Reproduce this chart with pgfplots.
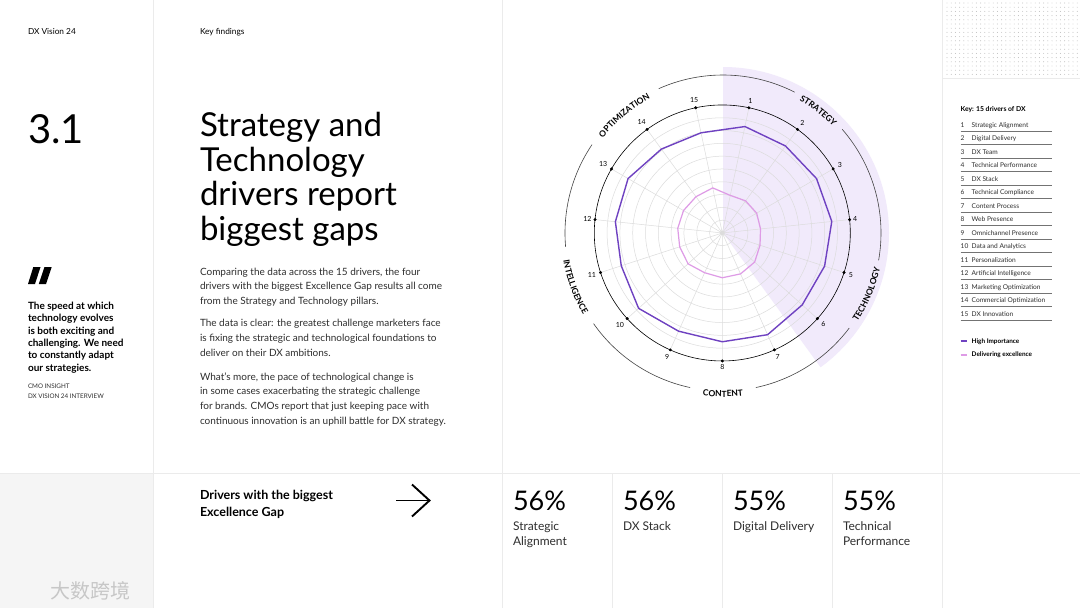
\documentclass[border=0pt]{standalone}
\usepackage{pgfplots}
\pgfplotsset{compat=1.18}
\usepgfplotslibrary{polar}
\usetikzlibrary{decorations.text}
\usepackage{fontspec}
\setmainfont{Lato}
\newfontfamily\cjk{Noto Sans CJK SC}
\definecolor{lav}{HTML}{F1EAFB}
\definecolor{darkp}{HTML}{6F42C1}
\definecolor{pinkp}{HTML}{DE9BE6}
\definecolor{divc}{HTML}{EBEBEB}
\definecolor{bodyc}{HTML}{2E2E2E}
\definecolor{gridc}{HTML}{DCDCDC}
\definecolor{arcc}{HTML}{444444}
\newcommand\fs[1]{\fontsize{#1}{#1}\selectfont}
\newcommand\T[4]{\node[anchor=base west, inner sep=0pt, outer sep=0pt, font=#3] at (#1,-#2) {#4};}
\newcommand\lblfont{\fs{8.5}\bfseries}
\newcommand\cwlabel[3]{\path[decorate, decoration={text along path, text align=center, text={|\lblfont|#3}}]
 ({723+#2*cos(90-#1+28)},{-233+#2*sin(90-#1+28)}) arc[start angle={90-#1+28}, end angle={90-#1-28}, radius=#2];}
\newcommand\ccwlabel[3]{\path[decorate, decoration={text along path, text align=center, text={|\lblfont|#3}}]
 ({723+#2*cos(90-#1-28)},{-233+#2*sin(90-#1-28)}) arc[start angle={90-#1-28}, end angle={90-#1+28}, radius=#2];}
\newcommand\oarc[2]{\draw[arcc, line width=0.6pt] ({723+158*cos(90-#1)},{-233+158*sin(90-#1)}) arc[start angle={90-#1}, end angle={90-#2}, radius=158];}
\begin{document}
\begin{tikzpicture}[x=1pt,y=1pt]
\useasboundingbox (0,0) rectangle (1080,-608);
\fill[white] (0,0) rectangle (1080,-608);
\fill[black!4] (0,-473) rectangle (153,-608);
% dividers
\draw[divc, line width=0.9pt] (153,0) -- (153,-608) (502,0) -- (502,-608) (942,0) -- (942,-608)
  (0,-473) -- (1080,-473) (612,-473) -- (612,-608) (722,-473) -- (722,-608) (832,-473) -- (832,-608)
  (942,-78) -- (1080,-78);
% dot pattern
\foreach \i in {0,...,31}{\foreach \j in {0,...,17}{\fill[black!30] ({947+4.2*\i},{-3-4.2*\j}) circle (0.45);}}
% header texts
\T{28}{34.5}{\fs{8.3}}{DX Vision 24}
\T{200}{34.5}{\fs{8.3}}{Key findings}
\T{28}{143}{\fs{40}}{3.1}
\T{200}{136}{\fs{33}}{Strategy and}
\T{200}{171}{\fs{33}}{Technology}
\T{200}{205}{\fs{33}}{drivers report}
\T{200}{240}{\fs{33}}{biggest gaps}
% quote mark
\fill[black] (33.3,-267) -- (40.5,-267) -- (35,-284) -- (28,-284) -- cycle;
\fill[black] (44.5,-267) -- (51.7,-267) -- (46,-284) -- (38.8,-284) -- cycle;
\T{28}{309}{\fs{10}\bfseries}{The speed at which}
\T{28}{321.5}{\fs{10}\bfseries}{technology evolves}
\T{28}{334}{\fs{10}\bfseries}{is both exciting and}
\T{28}{346.3}{\fs{10}\bfseries}{challenging. We need}
\T{28}{358.6}{\fs{10}\bfseries}{to constantly adapt}
\T{28}{371}{\fs{10}\bfseries}{our strategies.}
\T{28}{388.5}{\fs{6.3}\color{bodyc}}{CMO INSIGHT}
\T{28}{398}{\fs{6.3}\color{bodyc}}{DX VISION 24 INTERVIEW}
% body
\T{200}{275}{\fs{10}\color{bodyc}}{Comparing the data across the 15 drivers, the four}
\T{200}{289.5}{\fs{10}\color{bodyc}}{drivers with the biggest Excellence Gap results all come}
\T{200}{304.5}{\fs{10}\color{bodyc}}{from the Strategy and Technology pillars.}
\T{200}{326.5}{\fs{10}\color{bodyc}}{The data is clear: the greatest challenge marketers face}
\T{200}{341}{\fs{10}\color{bodyc}}{is fixing the strategic and technological foundations to}
\T{200}{356}{\fs{10}\color{bodyc}}{deliver on their DX ambitions.}
\T{200}{380}{\fs{10}\color{bodyc}}{What’s more, the pace of technological change is}
\T{200}{394.5}{\fs{10}\color{bodyc}}{in some cases exacerbating the strategic challenge}
\T{200}{409}{\fs{10}\color{bodyc}}{for brands. CMOs report that just keeping pace with}
\T{200}{424}{\fs{10}\color{bodyc}}{continuous innovation is an uphill battle for DX strategy.}
% bottom row
\T{200}{499.5}{\fs{12.5}\bfseries}{Drivers with the biggest}
\T{200}{516.5}{\fs{12.5}\bfseries}{Excellence Gap}
\draw[black, line width=1.9pt] (396,-500.5) -- (429,-500.5);
\draw[black, line width=1.9pt, line join=miter] (412,-484.5) -- (429.5,-500.5) -- (412,-516.5);
\foreach \x/\p/\a/\b in {513/56/Strategic/Alignment, 623/56/DX Stack/, 733/55/Digital Delivery/, 843/55/Technical/Performance}{
  \T{\x}{510.7}{\fs{27}}{\p\%}
  \T{\x}{530}{\fs{12}\color{bodyc}}{\a}
  \T{\x}{545.5}{\fs{12}\color{bodyc}}{\b}
}
\node[anchor=base west, inner sep=0pt, font=\cjk\fs{20}, text=black!22] at (50,-598) {大数跨境};
% key
\T{960.7}{111.5}{\fs{6.8}\bfseries}{Key: 15 drivers of DX}
\foreach \n/\name [count=\k] in {1/Strategic Alignment, 2/Digital Delivery, 3/DX Team, 4/Technical Performance, 5/DX Stack, 6/Technical Compliance, 7/Content Process, 8/Web Presence, 9/Omnichannel Presence, 10/Data and Analytics, 11/Personalization, 12/Artificial Intelligence, 13/Marketing Optimization, 14/Commercial Optimization, 15/DX Innovation}{
  \pgfmathsetmacro\yy{125+13.5*(\k-1)}
  \pgfmathsetmacro\yb{\yy+2.4}
  \T{960.7}{\yb}{\fs{6.6}\color{bodyc}}{\n}
  \T{971.7}{\yb}{\fs{6.6}\color{bodyc}}{\name}
  \draw[black!55, line width=0.5pt] (960.7,{-\yy-6}) -- (1051.7,{-\yy-6});
}
\draw[darkp, line width=2pt] (960.7,-340.7) -- (967,-340.7);
\draw[pinkp, line width=2pt] (960.7,-354.5) -- (967,-354.5);
\T{971.7}{343}{\fs{6.4}\bfseries}{High Importance}
\T{971.7}{356.8}{\fs{6.4}\bfseries}{Delivering excellence}
% radar background sector
\fill[lav] (723,-233) -- (723,{-233+166}) arc[start angle=90, end angle=-54, radius=166] -- cycle;
% outer arcs
\oarc{-24}{27}
\oarc{49}{100}
\oarc{127}{168}
\oarc{192}{235}
\oarc{265}{304}
\cwlabel{38}{153}{STRATEGY}
\ccwlabel{113}{161}{TECHNOLOGY}
\ccwlabel{180}{164}{CONTENT}
\ccwlabel{250}{162}{INTELLIGENCE}
\cwlabel{320}{153}{OPTIMIZATION}
\begin{polaraxis}[
  at={(564.3,-182.0)}, anchor=center,
  scale only axis, width=256pt, height=256pt,
  ymin=0, ymax=100,
  ytick={10,20,...,90}, yticklabels={},
  xtick={6,30,54,78,102,126,150,174,198,222,246,270,294,318,342},
  xticklabels={4,3,2,1,15,14,13,12,11,10,9,8,7,6,5},
  xticklabel style={font=\fs{7}, text=black},
  major tick length=0pt,
  xmajorgrids, ymajorgrids,
  major grid style={gridc, line width=0.5pt},
  axis line style={black, line width=0.6pt},
  y axis line style={draw=none},
  clip=false,
]
\addplot[darkp, line width=1.4pt, line join=round] coordinates {
 (78,85) (54,84) (30,85) (6,86) (342,84) (318,84) (294,87) (270,85)
 (246,84) (222,88) (198,83) (174,84) (150,85) (126,81) (102,80) (78,85)};
\addplot[pinkp, line width=1.2pt, line join=round] coordinates {
 (78,30) (54,31) (30,31) (6,30) (342,31) (318,34) (294,35) (270,35)
 (246,34) (222,36) (198,35) (174,35) (150,35) (126,35) (102,36) (78,30)};
\addplot[only marks, mark=*, mark size=1.3pt, black] coordinates {
 (6,100) (30,100) (54,100) (78,100) (102,100) (126,100) (150,100) (174,100)
 (198,100) (222,100) (246,100) (270,100) (294,100) (318,100) (342,100)};
\end{polaraxis}
\end{tikzpicture}
\end{document}
